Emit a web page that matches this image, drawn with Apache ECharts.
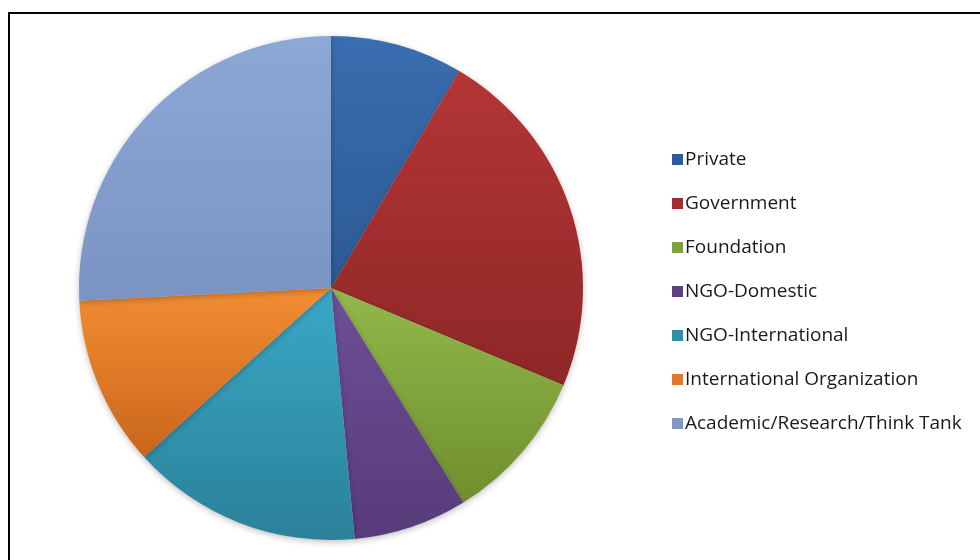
<!DOCTYPE html>
<html>
<head>
<meta charset="utf-8">
<script src="https://cdn.jsdelivr.net/npm/echarts@6/dist/echarts.min.js"></script>
<style>
html,body{margin:0;padding:0;background:#fff;}
#chart{width:980px;height:560px;}
</style>
</head>
<body>
<div id="chart"></div>
<script>
const categories = ['Private','Government','Foundation','NGO-Domestic','NGO-International','International Organization','Academic/Research/Think Tank'];
const values = [8.5, 22.8, 9.9, 7.3, 14.8, 10.9, 25.8];
const topColors = ['#3A6DB0','#B43535','#92B84A','#6E4F96','#3AA8C6','#F38D33','#8DA8D6'];
const bottomColors = ['#2C5A94','#8E2727','#6F8F2E','#573B7A','#2A8199','#C9661B','#7A93C2'];
const legendColors = ['#2E5C9A','#A02E2E','#7FA33C','#5E3F85','#2E8FAD','#E3782A','#8097C9'];

function grad(i){
  return new echarts.graphic.LinearGradient(0,0,0,1,[
    {offset:0,color:topColors[i]},{offset:1,color:bottomColors[i]}
  ]);
}

const chart = echarts.init(document.getElementById('chart'));
chart.setOption({
  animation:false,
  backgroundColor:'#fff',
  graphic:[{
    type:'rect',
    shape:{x:9,y:13,width:1000,height:600},
    style:{fill:'none',stroke:'#000',lineWidth:2},
    z:100
  }],
  legend:{
    orient:'vertical',
    left:667,
    top:141,
    itemWidth:11,
    itemHeight:11,
    itemGap:17,
    icon:'rect',
    data:categories.map((c,i)=>({name:c,itemStyle:{color:legendColors[i]}})),
    textStyle:{fontFamily:'Open Sans',fontSize:19,color:'#1a1a1a',lineHeight:20,padding:[7,0,0,-3]}
  },
  series:[{
    type:'pie',
    center:[331,288],
    radius:252,
    startAngle:90,
    clockwise:true,
    label:{show:false},
    labelLine:{show:false},
    itemStyle:{borderWidth:0,shadowBlur:6,shadowColor:'rgba(0,0,0,0.25)',shadowOffsetY:2},
    emphasis:{disabled:true},
    data:categories.map((c,i)=>({name:c,value:values[i],itemStyle:{color:grad(i)}}))
  }]
});
</script>
</body>
</html>
